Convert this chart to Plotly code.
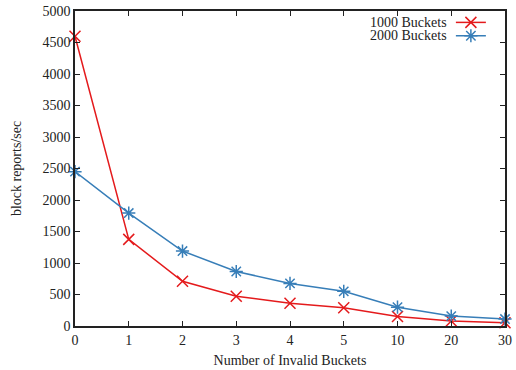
import plotly.graph_objects as go

categories = ["0", "1", "2", "3", "4", "5", "10", "20", "30"]
buckets_1000 = [4600, 1375, 710, 472, 362, 290, 152, 80, 53]
buckets_2000 = [2450, 1793, 1190, 865, 676, 550, 299, 157, 110]
series_names = ["1000 Buckets", "2000 Buckets"]
y_ticks = [0, 500, 1000, 1500, 2000, 2500, 3000, 3500, 4000, 4500, 5000]

RED = "#e41a1c"
BLUE = "#377eb8"
FONT = "Liberation Serif"
FS = 14

fig = go.Figure()
fig.add_trace(go.Scatter(
    x=categories, y=buckets_1000, mode="lines+markers", name=" ",
    line=dict(color=RED, width=1.5),
    marker=dict(symbol="x-thin", size=11, line=dict(color=RED, width=1.5), color=RED),
    cliponaxis=False, legend="legend",
))
fig.add_trace(go.Scatter(
    x=categories, y=buckets_2000, mode="lines+markers", name=" ",
    line=dict(color=BLUE, width=1.5),
    marker=dict(symbol="asterisk-open", size=11, line=dict(color=BLUE, width=1.5), color=BLUE),
    cliponaxis=False, legend="legend2",
))

axis_common = dict(
    showline=True, linecolor="#222222", linewidth=1.5, mirror="ticks",
    ticks="inside", ticklen=5, tickwidth=1, tickcolor="#222222",
    showgrid=False, zeroline=False,
    tickfont=dict(family=FONT, size=FS, color="#222222"),
)

leg_x = (457 - 75) / 437
row1 = 1 - (19.5 - 8) / 318
row2 = 1 - (33 - 8) / 318
text_x = (455 - 75) / 437

leg_common = dict(xanchor="left", yanchor="middle", bgcolor="rgba(0,0,0,0)",
                  font=dict(family=FONT, size=8), itemwidth=30)

fig.update_layout(
    width=516, height=370,
    margin=dict(l=75, r=4, t=8, b=44),
    paper_bgcolor="white", plot_bgcolor="white",
    font=dict(family=FONT, size=FS, color="#222222"),
    showlegend=True,
    legend=dict(x=leg_x, y=row1, **leg_common),
    legend2=dict(x=leg_x, y=row2, **leg_common),
    xaxis=dict(type="category", range=[0, 8], categoryorder="array",
               categoryarray=categories,
               title=dict(text="Number of Invalid Buckets", standoff=9,
                          font=dict(family=FONT, size=FS)),
               **axis_common),
    yaxis=dict(range=[0, 5000], tickvals=y_ticks,
               title=dict(text="block reports/sec", standoff=18,
                          font=dict(family=FONT, size=FS)),
               **axis_common),
    annotations=[
        dict(text=series_names[0], xref="paper", yref="paper", x=text_x, y=row1,
             xanchor="right", yanchor="middle", showarrow=False,
             font=dict(family=FONT, size=FS)),
        dict(text=series_names[1], xref="paper", yref="paper", x=text_x, y=row2,
             xanchor="right", yanchor="middle", showarrow=False,
             font=dict(family=FONT, size=FS)),
    ],
)

fig.write_html("out.html")
